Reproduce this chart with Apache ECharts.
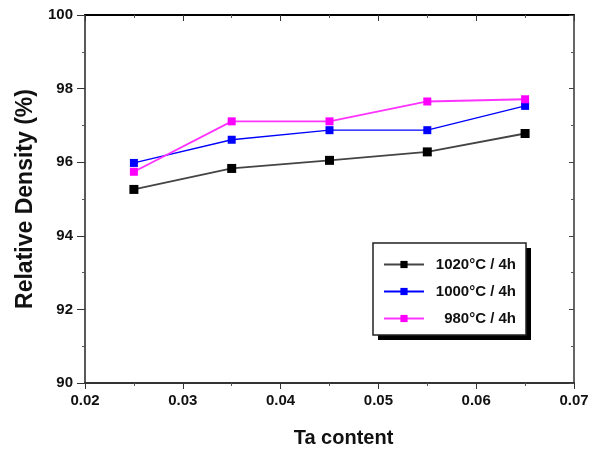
<!DOCTYPE html>
<html>
<head>
<meta charset="utf-8">
<script src="https://cdn.jsdelivr.net/npm/echarts@6/dist/echarts.min.js"></script>
<style>
  html, body { margin: 0; padding: 0; background: #fff; }
  #chart { width: 599px; height: 453px; }
</style>
</head>
<body>
<div id="chart"></div>
<script>
// Ta content (x) and relative density (%) per sintering condition
var taContent = [0.025, 0.035, 0.045, 0.055, 0.065];
var density1020 = [95.26, 95.83, 96.05, 96.28, 96.78];
var density1000 = [95.98, 96.61, 96.87, 96.87, 97.53];
var density980 = [95.74, 97.11, 97.11, 97.65, 97.71];
var seriesNames = ['1020°C / 4h', '1000°C / 4h', '980°C / 4h'];

function pairs(ys) {
  return taContent.map(function (x, i) { return [x, ys[i]]; });
}

var font = 'Liberation Sans, Arial, sans-serif';
var chart = echarts.init(document.getElementById('chart'));

var option = {
  animation: false,
  backgroundColor: '#fff',
  grid: { left: 85, right: 25, top: 15, bottom: 67 },
  // drop shadow behind the legend box
  graphic: [{
    type: 'rect',
    left: 378, top: 248,
    shape: { width: 153, height: 92 },
    style: { fill: '#000' },
    z: 1
  }],
  legend: {
    orient: 'vertical',
    left: 373,
    top: 243,
    padding: [14, 10, 9, 10],
    itemGap: 12,
    itemWidth: 40,
    itemHeight: 9,
    backgroundColor: '#fff',
    borderColor: '#222',
    borderWidth: 1.5,
    borderRadius: 0,
    z: 5,
    data: seriesNames,
    formatter: function (name) { return '{t|' + name + '}'; },
    textStyle: {
      rich: {
        t: { width: 87, align: 'right', fontFamily: font, fontWeight: 'bold', fontSize: 15, color: '#111' }
      }
    }
  },
  xAxis: [{
    type: 'value',
    position: 'bottom',
    min: 0.02, max: 0.07, interval: 0.01,
    name: 'Ta content',
    nameLocation: 'middle',
    nameGap: 45,
    nameTextStyle: { fontFamily: font, fontWeight: 'bold', fontSize: 20, color: '#111', padding: [0, 0, 0, 28] },
    axisLine: { onZero: false, lineStyle: { color: '#333', width: 2 } },
    axisTick: { inside: false, length: 6, lineStyle: { color: '#333', width: 1 } },
    minorTick: { show: true, splitNumber: 2, length: 3, lineStyle: { color: '#555' } },
    axisLabel: { margin: 10, fontFamily: font, fontWeight: 'bold', fontSize: 15, color: '#111',
      formatter: function (v) { return v.toFixed(2); } },
    splitLine: { show: false }
  }, {
    type: 'value',
    position: 'top',
    min: 0.02, max: 0.07, interval: 0.01,
    axisLine: { onZero: false, lineStyle: { color: '#000', width: 2 } },
    axisTick: { inside: true, length: 6, lineStyle: { color: '#333' } },
    minorTick: { show: true, splitNumber: 2, length: 3, lineStyle: { color: '#555' } },
    axisLabel: { show: false },
    splitLine: { show: false }
  }],
  yAxis: [{
    type: 'value',
    position: 'left',
    min: 90, max: 100, interval: 2,
    name: 'Relative Density (%)',
    nameLocation: 'middle',
    nameGap: 45,
    nameTextStyle: { fontFamily: font, fontWeight: 'bold', fontSize: 23, color: '#111' },
    axisLine: { onZero: false, lineStyle: { color: '#222', width: 1.5 } },
    axisTick: { inside: false, length: 8, lineStyle: { color: '#333' } },
    minorTick: { show: true, splitNumber: 2, length: 3, lineStyle: { color: '#555' } },
    axisLabel: { margin: 12, fontFamily: font, fontWeight: 'bold', fontSize: 15, color: '#111' },
    splitLine: { show: false }
  }, {
    type: 'value',
    position: 'right',
    min: 90, max: 100, interval: 2,
    axisLine: { onZero: false, lineStyle: { color: '#333', width: 1.5 } },
    axisTick: { inside: true, length: 5, lineStyle: { color: '#444' } },
    minorTick: { show: true, splitNumber: 2, length: 3, lineStyle: { color: '#555' } },
    axisLabel: { show: false },
    splitLine: { show: false }
  }],
  series: [{
    name: seriesNames[0],
    type: 'line',
    data: pairs(density1020),
    symbol: 'rect',
    symbolSize: 9,
    itemStyle: { color: '#000' },
    lineStyle: { color: '#444', width: 1.8 }
  }, {
    name: seriesNames[1],
    type: 'line',
    data: pairs(density1000),
    symbol: 'rect',
    symbolSize: 8,
    itemStyle: { color: '#0000ff' },
    lineStyle: { color: '#0000ff', width: 1.3 }
  }, {
    name: seriesNames[2],
    type: 'line',
    data: pairs(density980),
    symbol: 'rect',
    symbolSize: 8,
    itemStyle: { color: '#ff00ff' },
    lineStyle: { color: '#ff33ff', width: 1.8 }
  }]
};

chart.setOption(option);
</script>
</body>
</html>
